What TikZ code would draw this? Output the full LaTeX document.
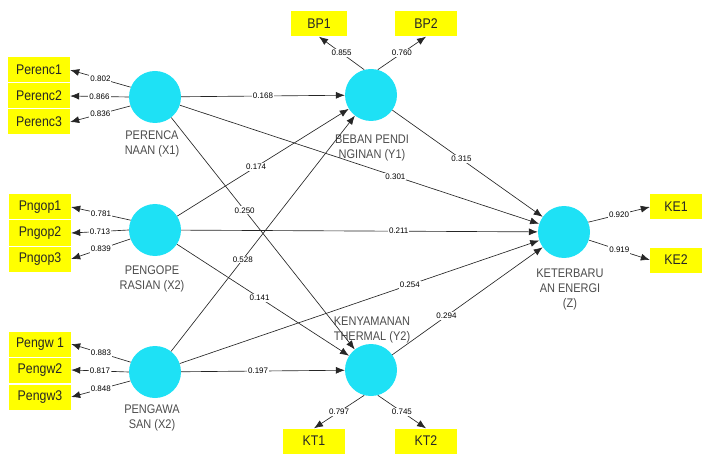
\documentclass[tikz,border=0pt]{standalone}
\usepackage{fontspec}
\setmainfont{Liberation Sans}
\newfontfamily\narrowfont[FakeStretch=0.88]{Liberation Sans}
\usetikzlibrary{arrows.meta}
\definecolor{lvc}{RGB}{30,225,245}
\definecolor{indc}{RGB}{255,255,0}
\begin{document}
\begin{tikzpicture}[x=1pt,y=-1pt,
 lv/.style={circle,fill=lvc,draw=none,minimum size=52pt,inner sep=0pt},
 ind/.style={rectangle,fill=indc,minimum width=62pt,minimum height=25pt,inner sep=0pt,font=\narrowfont\fontsize{14}{15}\selectfont,text=black!85},
 lvlab/.style={align=center,font=\narrowfont\fontsize{12.5}{15}\selectfont,text=black!70},
 coef/.style={fill=white,inner sep=1pt,font=\fontsize{8}{9}\selectfont,text=black},
 arr/.style={-{Latex[length=9pt,width=7pt]},line width=0.65pt,draw=black!85},
]
\useasboundingbox (0,0) rectangle (703,454);
% latent variables
\node[lv] (X1) at (155,97) {};
\node[lv] (X2) at (155,230) {};
\node[lv] (X3) at (155,372) {};
\node[lv] (Y1) at (371,95) {};
\node[lv] (Y2) at (371,370) {};
\node[lv] (Z) at (564,232) {};
% latent labels
\node[lvlab] (X1l) at (152,144) {PERENCA\\NAAN (X1)};
\node[lvlab] (X2l) at (152,279) {PENGOPE\\RASIAN (X2)};
\node[lvlab] (X3l) at (152,418) {PENGAWA\\SAN (X2)};
\node[lvlab] (Y1l) at (372,148) {BEBAN PENDI\\NGINAN (Y1)};
\node[lvlab] (Y2l) at (372,330) {KENYAMANAN\\THERMAL (Y2)};
\node[lvlab] (Zl) at (570,289) {KETERBARU\\AN ENERGI\\(Z)};
% indicators
\node[ind] (P1) at (39,70) {Perenc1};
\node[ind] (P2) at (39,96) {Perenc2};
\node[ind] (P3) at (39,122) {Perenc3};
\node[ind] (G1) at (40,207) {Pngop1};
\node[ind] (G2) at (40,233) {Pngop2};
\node[ind] (G3) at (40,259) {Pngop3};
\node[ind] (W1) at (40,344) {Pengw 1};
\node[ind] (W2) at (40,370) {Pengw2};
\node[ind] (W3) at (40,397) {Pengw3};
\node[ind,minimum width=56pt] (B1) at (319,24) {BP1};
\node[ind] (B2) at (426,24) {BP2};
\node[ind] (T1) at (314,441) {KT1};
\node[ind] (T2) at (426,441) {KT2};
\node[ind,minimum width=52pt] (E1) at (676,207) {KE1};
\node[ind,minimum width=52pt] (E2) at (676,260) {KE2};
% outer loadings
\draw[arr] (X1.158) -- node[coef]{0.802} (P1.east);
\draw[arr] (X1.180) -- node[coef]{0.866} (P2.east);
\draw[arr] (X1.200) -- node[coef]{0.836} (P3.east);
\draw[arr] (X2.158) -- node[coef]{0.781} (G1.east);
\draw[arr] (X2.180) -- node[coef]{0.713} (G2.east);
\draw[arr] (X2.200) -- node[coef]{0.839} (G3.east);
\draw[arr] (X3.158) -- node[coef]{0.883} (W1.east);
\draw[arr] (X3.180) -- node[coef]{0.817} (W2.east);
\draw[arr] (X3.200) -- node[coef]{0.848} (W3.east);
\draw[arr] (Y1.105) -- node[coef]{0.855} (B1.south);
\draw[arr] (Y1.75) -- node[coef]{0.760} (B2.south);
\draw[arr] (Y2.255) -- node[coef]{0.797} (T1.north);
\draw[arr] (Y2.285) -- node[coef]{0.745} (T2.north);
\draw[arr] (Z.22) -- node[coef]{0.920} (E1.west);
\draw[arr] (Z.-18) -- node[coef]{0.919} (E2.west);
% inner model
\draw[arr] (X1) -- node[coef,pos=0.5]{0.168} (Y1);
\draw[arr] (X1) -- node[coef,pos=0.6]{0.301} (Z);
\draw[arr] (X1) -- node[coef,pos=0.4]{0.250} (Y2);
\draw[arr] (X2) -- node[coef,pos=0.46]{0.174} (Y1);
\draw[arr] (X2) -- node[coef,pos=0.61]{0.211} (Z);
\draw[arr] (X2) -- node[coef,pos=0.48]{0.141} (Y2);
\draw[arr] (X3) -- node[coef,pos=0.39]{0.528} (Y1);
\draw[arr] (X3) -- node[coef,pos=0.64]{0.254} (Z);
\draw[arr] (X3) -- node[coef,pos=0.47]{0.197} (Y2);
\draw[arr] (Y1) -- node[coef,pos=0.46]{0.315} (Z);
\draw[arr] (Y2) -- node[coef,pos=0.36]{0.294} (Z);
\end{tikzpicture}
\end{document}
